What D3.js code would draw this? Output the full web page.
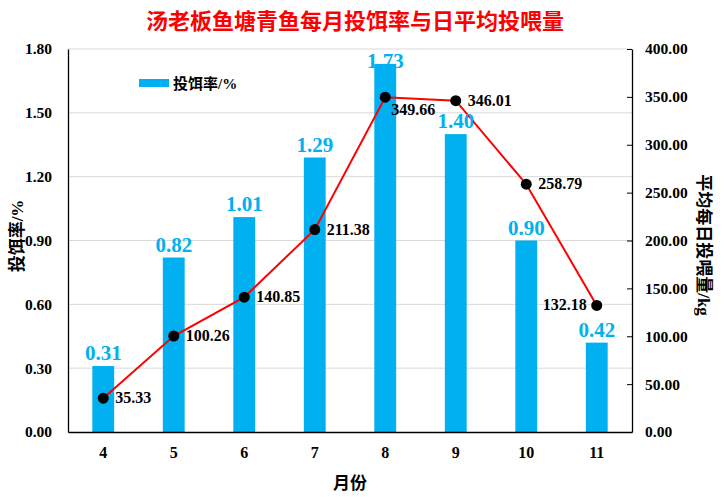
<!DOCTYPE html>
<html>
<head>
<meta charset="utf-8">
<script src="https://cdn.jsdelivr.net/npm/d3@7"></script>
<style>
  body { margin: 0; background: #fff; }
  svg { display: block; }
  text { font-family: "Liberation Serif", "Noto Sans CJK SC", serif; }
</style>
</head>
<body>
<svg width="726" height="497"></svg>
<script>
const months = ["4", "5", "6", "7", "8", "9", "10", "11"]
const feedRate = [0.31, 0.82, 1.01, 1.29, 1.73, 1.40, 0.90, 0.42]
const dailyFeed = [35.33, 100.26, 140.85, 211.38, 349.66, 346.01, 258.79, 132.18]
const leftTicks = [0, 0.3, 0.6, 0.9, 1.2, 1.5, 1.8]
const rightTicks = [0, 50, 100, 150, 200, 250, 300, 350, 400]

const width = 726
const height = 497
const marginLeft = 68
const marginRight = 94
const marginTop = 49
const marginBottom = 65

const svg = d3.select("svg")

const xScale = d3.scaleBand()
  .domain(months)
  .range([marginLeft, width - marginRight])
  .paddingInner(0.69)
  .paddingOuter(0.345)

const yLeft = d3.scaleLinear()
  .domain([0, 1.8])
  .range([height - marginBottom, marginTop])

const yRight = d3.scaleLinear()
  .domain([0, 400])
  .range([height - marginBottom, marginTop])

// gridlines
svg.append("g")
  .selectAll("line")
  .data(leftTicks.slice(1))
  .join("line")
  .attr("x1", marginLeft).attr("x2", width - marginRight)
  .attr("y1", d => yLeft(d)).attr("y2", d => yLeft(d))
  .attr("stroke", "#d9d9d9")
  .attr("stroke-width", 1)

// bars
svg.append("g")
  .selectAll("rect")
  .data(feedRate)
  .join("rect")
  .attr("x", (d, i) => xScale(months[i]))
  .attr("width", xScale.bandwidth())
  .attr("y", d => yLeft(d))
  .attr("height", d => yLeft(0) - yLeft(d))
  .attr("fill", "#00b0f0")

// left axis
const leftAxis = svg.append("g")
  .attr("transform", "translate(" + marginLeft + ",0)")
  .call(d3.axisLeft(yLeft).tickValues(leftTicks).tickFormat(d3.format(".2f")).tickSize(0).tickPadding(16))
leftAxis.select(".domain").attr("stroke", "#000").attr("stroke-width", 1.3)

// right axis
const rightAxis = svg.append("g")
  .attr("transform", "translate(" + (width - marginRight) + ",0)")
  .call(d3.axisRight(yRight).tickValues(rightTicks).tickFormat(d3.format(".2f")).tickSizeInner(-5).tickSizeOuter(0).tickPadding(13))
rightAxis.select(".domain").attr("stroke", "#000").attr("stroke-width", 1.3)
rightAxis.selectAll(".tick line").attr("stroke", "#000")

// bottom axis
const bottomAxis = svg.append("g")
  .attr("transform", "translate(0," + (height - marginBottom) + ")")
  .call(d3.axisBottom(xScale).tickSize(0).tickPadding(15))
bottomAxis.select(".domain").attr("stroke", "#000").attr("stroke-width", 1.5)

svg.selectAll(".tick text")
  .style("font-family", "'Liberation Serif', serif")
  .style("font-weight", "bold")
  .style("font-size", "15.5px")
  .attr("fill", "#000")
bottomAxis.selectAll(".tick text").style("font-size", "16px")

// line
const line = d3.line()
  .x((d, i) => xScale(months[i]) + xScale.bandwidth() / 2)
  .y(d => yRight(d))

svg.append("path")
  .datum(dailyFeed)
  .attr("d", line)
  .attr("fill", "none")
  .attr("stroke", "#ff0000")
  .attr("stroke-width", 2)

svg.append("g")
  .selectAll("circle")
  .data(dailyFeed)
  .join("circle")
  .attr("cx", (d, i) => xScale(months[i]) + xScale.bandwidth() / 2)
  .attr("cy", d => yRight(d))
  .attr("r", 5.5)
  .attr("fill", "#000")

// bar labels
svg.append("g")
  .selectAll("text")
  .data(feedRate)
  .join("text")
  .attr("x", (d, i) => xScale(months[i]) + xScale.bandwidth() / 2)
  .attr("y", d => Math.max(yLeft(d) - 6, marginTop + 19))
  .attr("text-anchor", "middle")
  .style("font-size", "21px")
  .style("font-weight", "bold")
  .attr("fill", "#00b0f0")
  .text(d => d.toFixed(2))

// line labels
const lastIdx = dailyFeed.length - 1
svg.append("g")
  .selectAll("text")
  .data(dailyFeed)
  .join("text")
  .attr("x", (d, i) => xScale(months[i]) + xScale.bandwidth() / 2 + (i == lastIdx ? -10 : (i == 4 ? 6 : 12)))
  .attr("y", (d, i) => yRight(d) + (i == 4 ? 12 : 5))
  .attr("dy", (d, i) => i == 4 ? "0.35em" : 0)
  .attr("text-anchor", (d, i) => i == lastIdx ? "end" : "start")
  .style("font-size", "16px")
  .style("font-weight", "bold")
  .attr("fill", "#000")
  .text(d => d.toFixed(2))

// legend
svg.append("rect")
  .attr("x", 139).attr("y", 79)
  .attr("width", 30).attr("height", 8)
  .attr("fill", "#00b0f0")
svg.append("text")
  .attr("x", 173).attr("y", 89)
  .style("font-size", "15px")
  .style("font-weight", "bold")
  .text("投饵率/%")

// title
svg.append("text")
  .attr("x", (marginLeft + width - marginRight) / 2 + 5)
  .attr("y", 29)
  .attr("text-anchor", "middle")
  .style("font-family", "'Noto Sans CJK SC', sans-serif")
  .style("font-size", "22px")
  .style("font-weight", "bold")
  .attr("fill", "#ff0000")
  .text("汤老板鱼塘青鱼每月投饵率与日平均投喂量")

// axis titles
svg.append("text")
  .attr("transform", "translate(23,236) rotate(-90)")
  .attr("text-anchor", "middle")
  .style("font-size", "17px")
  .style("font-weight", "bold")
  .text("投饵率/%")

svg.append("text")
  .attr("transform", "translate(698,245) rotate(90)")
  .attr("text-anchor", "middle")
  .style("font-size", "17px")
  .style("font-weight", "bold")
  .text("平均每日投喂量/kg")

svg.append("text")
  .attr("x", (marginLeft + width - marginRight) / 2)
  .attr("y", 489)
  .attr("text-anchor", "middle")
  .style("font-size", "17px")
  .style("font-weight", "bold")
  .text("月份")
</script>
</body>
</html>
